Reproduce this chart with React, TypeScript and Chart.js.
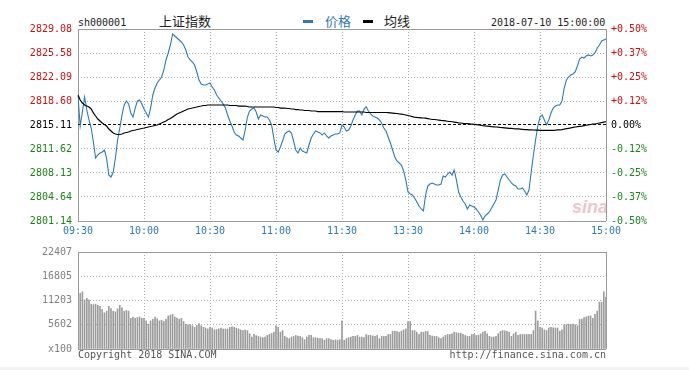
import React, { useEffect, useRef } from 'react';
import { Chart, registerables } from 'chart.js';

Chart.register(...registerables);

// ---------- data ----------
const priceTicks = [2801.14, 2804.64, 2808.13, 2811.62, 2815.11, 2818.6, 2822.09, 2825.58, 2829.08];
const pctTicks = ['-0.50%', '-0.37%', '-0.25%', '-0.12%', '0.00%', '+0.12%', '+0.25%', '+0.37%', '+0.50%'];
const volTicks = [0, 5602, 11203, 16805, 22407];
const volTickLabels = ['x100', '5602', '11203', '16805', '22407'];

const priceValues = [
  2819.33, 2814.96, 2817.0, 2819.18, 2817.29, 2815.84, 2814.67, 2812.64, 2810.31, 2810.75,
  2811.04, 2811.18, 2811.47, 2810.31, 2807.83, 2807.54, 2808.27, 2810.31, 2812.93, 2814.67,
  2816.57, 2818.02, 2818.6, 2818.17, 2816.86, 2816.27, 2817.58, 2818.6, 2818.75, 2818.17,
  2817.44, 2816.86, 2816.27, 2817.58, 2819.48, 2820.49, 2821.22, 2821.66, 2822.09, 2823.11,
  2824.57, 2825.59, 2826.75, 2828.35, 2828.06, 2827.77, 2827.48, 2827.19, 2826.75, 2826.02,
  2825.0, 2824.57, 2824.28, 2823.84, 2822.82, 2821.66, 2821.08, 2820.93, 2820.93, 2821.08,
  2821.22, 2820.64, 2820.2, 2819.48, 2819.04, 2818.6, 2818.17, 2817.58, 2816.57, 2815.69,
  2814.96, 2814.09, 2813.65, 2813.51, 2813.22, 2812.93, 2814.38, 2816.27, 2817.15, 2817.44,
  2817.58, 2817.0, 2815.98, 2816.57, 2816.42, 2816.27, 2816.27, 2815.84, 2815.11, 2813.22,
  2811.47, 2811.18, 2811.91, 2812.78, 2813.8, 2814.09, 2814.24, 2813.95, 2812.78, 2811.47,
  2811.04, 2811.76, 2811.33, 2811.18, 2811.04, 2812.2, 2813.22, 2813.8, 2814.24, 2814.09,
  2813.95, 2813.65, 2813.95, 2813.51, 2813.22, 2813.51, 2813.65, 2813.8, 2813.8, 2813.95,
  2815.11, 2814.82, 2814.24, 2814.38, 2814.96, 2815.84, 2816.57, 2817.15, 2817.15, 2816.57,
  2817.44, 2817.73, 2817.15, 2816.71, 2816.42, 2816.27, 2816.13, 2815.84, 2815.4, 2814.67,
  2814.24, 2813.36, 2812.49, 2811.47, 2810.45, 2809.87, 2809.58, 2809.29, 2808.42, 2807.11,
  2805.36, 2805.07, 2804.92, 2804.49, 2803.91, 2803.32, 2802.89, 2802.6, 2804.92, 2806.23,
  2806.52, 2806.67, 2806.52, 2806.38, 2806.38, 2806.52, 2807.69, 2807.54, 2807.98, 2808.27,
  2807.83, 2808.56, 2807.11, 2805.36, 2804.63, 2804.05, 2803.61, 2802.89, 2803.47, 2803.32,
  2803.18, 2802.89, 2802.45, 2802.01, 2801.29, 2801.87, 2802.16, 2802.45, 2803.03, 2803.61,
  2804.2, 2805.65, 2807.11, 2807.83, 2807.98, 2807.54, 2807.11, 2806.67, 2806.38, 2806.23,
  2805.79, 2805.79, 2805.94, 2805.5, 2804.92, 2805.65, 2808.27, 2810.75, 2812.93, 2814.96,
  2816.27, 2816.57, 2815.84, 2815.11, 2815.84, 2816.86, 2817.58, 2817.87, 2818.02, 2818.02,
  2818.6, 2820.49, 2821.66, 2822.09, 2822.39, 2822.53, 2822.82, 2823.69, 2824.71, 2825.0,
  2824.86, 2825.15, 2825.3, 2825.15, 2825.3, 2825.59, 2826.31, 2826.75, 2827.33, 2827.48,
  2827.63,
];

const avgValues = [
  2819.48, 2818.75, 2818.31, 2818.02, 2817.87, 2817.73, 2817.44, 2816.86, 2816.42, 2815.98,
  2815.69, 2815.4, 2815.18, 2814.96, 2814.53, 2814.24, 2813.95, 2813.8, 2813.73, 2813.73,
  2813.8, 2813.95, 2814.02, 2814.09, 2814.24, 2814.31, 2814.38, 2814.46, 2814.53, 2814.6,
  2814.67, 2814.75, 2814.82, 2814.89, 2814.96, 2815.04, 2815.11, 2815.26, 2815.4, 2815.55,
  2815.69, 2815.91, 2816.06, 2816.27, 2816.49, 2816.71, 2816.86, 2817.0, 2817.15, 2817.29,
  2817.44, 2817.51, 2817.58, 2817.66, 2817.73, 2817.8, 2817.87, 2817.95, 2817.95, 2818.02,
  2818.02, 2818.02, 2818.02, 2818.02, 2818.02, 2818.02, 2818.02, 2818.02, 2818.02, 2817.95,
  2817.95, 2817.95, 2817.95, 2817.87, 2817.87, 2817.87, 2817.87, 2817.8, 2817.73, 2817.73,
  2817.73, 2817.73, 2817.73, 2817.73, 2817.73, 2817.73, 2817.73, 2817.73, 2817.73, 2817.73,
  2817.66, 2817.66, 2817.58, 2817.58, 2817.58, 2817.51, 2817.51, 2817.44, 2817.44, 2817.36,
  2817.36, 2817.29, 2817.29, 2817.22, 2817.22, 2817.22, 2817.15, 2817.15, 2817.15, 2817.07,
  2817.07, 2817.07, 2817.07, 2817.07, 2817.07, 2817.07, 2817.07, 2817.07, 2817.07, 2817.07,
  2817.07, 2817.0, 2817.0, 2817.0, 2817.0, 2817.0, 2817.0, 2817.0, 2817.0, 2817.0,
  2817.0, 2816.93, 2816.93, 2816.93, 2816.93, 2816.93, 2816.93, 2816.93, 2816.93, 2816.93,
  2816.93, 2816.9, 2816.87, 2816.84, 2816.81, 2816.78, 2816.73, 2816.69, 2816.64, 2816.57,
  2816.49, 2816.42, 2816.33, 2816.24, 2816.21, 2816.19, 2816.16, 2816.13, 2816.1, 2816.04,
  2815.98, 2815.94, 2815.91, 2815.87, 2815.83, 2815.78, 2815.74, 2815.7, 2815.66, 2815.62,
  2815.58, 2815.53, 2815.48, 2815.43, 2815.4, 2815.36, 2815.33, 2815.3, 2815.26, 2815.23,
  2815.2, 2815.16, 2815.11, 2815.07, 2815.02, 2814.98, 2814.95, 2814.92, 2814.88, 2814.85,
  2814.82, 2814.79, 2814.75, 2814.72, 2814.69, 2814.66, 2814.63, 2814.61, 2814.58, 2814.56,
  2814.54, 2814.51, 2814.48, 2814.45, 2814.43, 2814.4, 2814.39, 2814.38, 2814.36, 2814.35,
  2814.34, 2814.34, 2814.34, 2814.34, 2814.34, 2814.34, 2814.34, 2814.36, 2814.39, 2814.41,
  2814.44, 2814.5, 2814.57, 2814.63, 2814.69, 2814.76, 2814.82, 2814.86, 2814.9, 2814.94,
  2815.01, 2815.07, 2815.14, 2815.18, 2815.23, 2815.27, 2815.33, 2815.4, 2815.46, 2815.52,
  2815.58,
];

const volumeValues = [
  13500, 12840, 13220, 11360, 11720, 11360, 10370, 10240, 10370, 10100,
  9860, 9110, 8360, 8740, 9860, 9340, 8740, 8590, 9300, 10080,
  9490, 8740, 8890, 8740, 7100, 7400, 7100, 7250, 7400, 7100,
  7100, 6500, 5750, 6500, 6870, 7400, 7000, 6500, 6650, 6350,
  6870, 7620, 7840, 7990, 7400, 7150, 6870, 7100, 6350, 5750,
  5600, 5600, 5380, 5000, 5450, 5900, 5380, 5000, 4850, 4630,
  5000, 4850, 4410, 4500, 4630, 4850, 4630, 4630, 4630, 5000,
  5150, 5000, 4800, 4630, 4410, 4260, 4410, 4260, 3510, 2760,
  3360, 3100, 2910, 2760, 2610, 2760, 3140, 3360, 3600, 3880,
  5380,
  5000, 3880, 4260, 2910, 2610, 2390, 2760, 2910, 3140, 3000,
  2910, 2610, 2160, 2760, 3140, 3140, 2610, 2610, 2500, 2390,
  2390, 2020, 2390, 2390, 2160, 2020, 2100, 2020, 2160,
  6500,
  2020, 2390, 2610, 2760, 2910, 2910, 3140, 2760, 2760, 2610,
  3360, 3140, 3140, 3000, 2910, 3140, 2390, 2910, 2910, 2910,
  3360, 3360, 4110, 4110, 4000, 3880, 4110, 4410, 4630,
  6350,
  6350, 4260, 4260, 3880, 3360, 3880, 3880, 4040, 4040, 3140,
  3000, 2910, 2910, 2610, 2390, 2760, 3140, 3360, 3360, 3510,
  3880, 3750, 3660, 3660, 3360, 3140, 2910, 2910, 3360, 3360,
  3140, 3140, 3500, 3880, 4110, 3510, 2910, 2760, 2760, 2910,
  3510, 4110, 4260, 4200, 4110, 3880, 2910, 3510, 3880, 3140,
  3360, 3360, 3360, 3360, 3360, 3360, 4260,
  8740,
  6500, 5000, 4850, 4410, 4260, 4850, 5000, 4900, 4850, 4850,
  4110, 4410, 5600, 5600, 5750, 5700, 5750, 5600, 5380, 6870,
  6870, 7240, 7400, 7620, 7620, 7100, 7990, 8740, 10830, 10830,
  13220, 12000,
];

// minute categories: 09:30-11:30 and 13:01-15:00
function buildMinutes(): string[] {
  const out: string[] = [];
  const pad = (n: number) => (n < 10 ? '0' + n : '' + n);
  for (let m = 9 * 60 + 30; m <= 11 * 60 + 30; m++) out.push(pad(Math.floor(m / 60)) + ':' + pad(m % 60));
  for (let m = 13 * 60 + 1; m <= 15 * 60; m++) out.push(pad(Math.floor(m / 60)) + ':' + pad(m % 60));
  return out;
}
const minutes = buildMinutes();

// ---------- styles ----------
const MONO = '"DejaVu Sans Mono", monospace';
const CJK = '"Noto Sans CJK SC", sans-serif';
const GRID = '#a8a8a8';
const EDGE = '#9a9a9a';
const RED = '#cc1111';
const GREEN = '#1a861a';
const BLUE = '#2c7bb6';
const TICK_FONT = { family: MONO, size: 10 };

const xGrid = (last: number) => ({
  offset: false,
  drawTicks: false,
  lineWidth: 1,
  color: (ctx: any) =>
    ctx.index % 30 === 0 ? (ctx.index === 0 || ctx.index === last ? EDGE : GRID) : 'transparent',
});
const xBorder = (last: number) => ({
  display: false,
  dash: (ctx: any) => (ctx.index === 0 || ctx.index === last ? [] : [1, 2]),
});

export default function App() {
  const priceRef = useRef<HTMLCanvasElement | null>(null);
  const volRef = useRef<HTMLCanvasElement | null>(null);

  useEffect(() => {
    if (!priceRef.current || !volRef.current) return;
    const last = minutes.length - 1;

    const priceChart = new Chart(priceRef.current, {
      type: 'line',
      data: {
        labels: minutes,
        datasets: [
          {
            label: '均线',
            data: avgValues,
            borderColor: '#000000',
            borderWidth: 1.2,
            pointRadius: 0,
            tension: 0,
            yAxisID: 'y',
          },
          {
            label: '价格',
            data: priceValues,
            borderColor: BLUE,
            borderWidth: 1.1,
            pointRadius: 0,
            tension: 0,
            yAxisID: 'y',
          },
        ],
      },
      options: {
        responsive: false,
        animation: false,
        events: [],
        layout: { padding: { top: 29, left: 0, right: 0, bottom: 0 } },
        plugins: { legend: { display: false }, tooltip: { enabled: false } },
        scales: {
          x: {
            type: 'category',
            offset: false,
            grid: xGrid(last),
            border: xBorder(last),
            ticks: {
              autoSkip: false,
              maxRotation: 0,
              minRotation: 0,
              padding: 4,
              color: BLUE,
              font: TICK_FONT,
              callback: (_v: any, i: number) => (i % 30 === 0 ? minutes[i] : ''),
            },
            afterFit: (s: any) => {
              s.height = 19;
            },
          },
          y: {
            position: 'left',
            min: priceTicks[0],
            max: priceTicks[priceTicks.length - 1],
            afterBuildTicks: (s: any) => {
              s.ticks = priceTicks.map((v) => ({ value: v }));
            },
            afterFit: (s: any) => {
              s.width = 78;
            },
            grid: {
              drawTicks: false,
              lineWidth: 1,
              color: (ctx: any) =>
                ctx.index === 4 ? '#000000' : ctx.index === 0 || ctx.index === 8 ? EDGE : GRID,
            },
            border: {
              display: false,
              dash: (ctx: any) =>
                ctx.index === 4 ? [3, 2] : ctx.index === 0 || ctx.index === 8 ? [] : [1, 2],
            },
            ticks: {
              padding: 6,
              font: TICK_FONT,
              color: (ctx: any) => (ctx.index > 4 ? RED : ctx.index < 4 ? GREEN : '#000000'),
              callback: (v: any) => Number(v).toFixed(2),
            },
          },
          y2: {
            position: 'right',
            min: priceTicks[0],
            max: priceTicks[priceTicks.length - 1],
            afterBuildTicks: (s: any) => {
              s.ticks = priceTicks.map((v) => ({ value: v }));
            },
            afterFit: (s: any) => {
              s.width = 83;
            },
            grid: { display: false, drawTicks: false },
            border: { display: false },
            ticks: {
              padding: 5,
              font: TICK_FONT,
              color: (ctx: any) => (ctx.index > 4 ? RED : ctx.index < 4 ? GREEN : '#000000'),
              callback: (_v: any, i: number) => pctTicks[i],
            },
          },
        },
      },
    } as any);

    const volChart = new Chart(volRef.current, {
      type: 'bar',
      data: {
        labels: minutes,
        datasets: [
          {
            label: 'volume',
            data: volumeValues,
            backgroundColor: '#9c9c9c',
            borderWidth: 0,
            barThickness: 1,
          },
        ],
      },
      options: {
        responsive: false,
        animation: false,
        events: [],
        layout: { padding: { top: 9, left: 0, right: 83, bottom: 0 } },
        plugins: { legend: { display: false }, tooltip: { enabled: false } },
        scales: {
          x: {
            type: 'category',
            offset: false,
            grid: xGrid(last),
            border: xBorder(last),
            ticks: { display: false, autoSkip: false },
            afterFit: (s: any) => {
              s.height = 21;
            },
          },
          y: {
            position: 'left',
            min: 0,
            max: volTicks[volTicks.length - 1],
            afterBuildTicks: (s: any) => {
              s.ticks = volTicks.map((v) => ({ value: v }));
            },
            afterFit: (s: any) => {
              s.width = 78;
            },
            grid: {
              drawTicks: false,
              lineWidth: 1,
              color: (ctx: any) => (ctx.index === 0 || ctx.index === 4 ? EDGE : GRID),
            },
            border: {
              display: false,
              dash: (ctx: any) => (ctx.index === 0 || ctx.index === 4 ? [] : [1, 2]),
            },
            ticks: {
              padding: 6,
              font: TICK_FONT,
              color: '#808080',
              callback: (_v: any, i: number) => volTickLabels[i],
            },
          },
        },
      },
    } as any);

    return () => {
      priceChart.destroy();
      volChart.destroy();
    };
  }, []);

  const txt = (extra: React.CSSProperties): React.CSSProperties => ({
    position: 'absolute',
    whiteSpace: 'nowrap',
    margin: 0,
    padding: 0,
    ...extra,
  });

  return (
    <div
      style={{
        position: 'absolute',
        left: 0,
        top: 0,
        width: 689,
        height: 370,
        overflow: 'hidden',
        background: '#ffffff',
      }}
    >
      {/* header */}
      <div style={txt({ left: 78, top: 17, font: `10px ${MONO}`, lineHeight: '12px', color: '#222' })}>sh000001</div>
      <div style={txt({ left: 159, top: 11, font: `13px ${CJK}`, lineHeight: '19px', color: '#222' })}>上证指数</div>
      <div style={{ position: 'absolute', left: 303, top: 20, width: 10, height: 3, background: BLUE }} />
      <div style={txt({ left: 325, top: 11, font: `13px ${CJK}`, lineHeight: '19px', color: BLUE })}>价格</div>
      <div style={{ position: 'absolute', left: 363, top: 20, width: 10, height: 3, background: '#000' }} />
      <div style={txt({ left: 384, top: 11, font: `13px ${CJK}`, lineHeight: '19px', color: '#222' })}>均线</div>
      <div style={txt({ left: 491, top: 17, font: `10px ${MONO}`, lineHeight: '12px', color: '#222' })}>
        2018-07-10 15:00:00
      </div>

      {/* watermark */}
      <div
        style={txt({
          left: 572,
          top: 197,
          font: `italic bold 18px "Liberation Sans", sans-serif`,
          lineHeight: '20px',
          color: 'rgba(225, 120, 140, 0.45)',
        })}
      >
        sina
      </div>

      <canvas
        ref={priceRef}
        width={689}
        height={240}
        style={{ position: 'absolute', left: 0, top: 0, width: 689, height: 240 }}
      />
      <canvas
        ref={volRef}
        width={689}
        height={130}
        style={{ position: 'absolute', left: 0, top: 240, width: 689, height: 130 }}
      />

      {/* footer */}
      <div style={txt({ left: 78, top: 349, font: `10px ${MONO}`, lineHeight: '12px', color: '#555' })}>
        Copyright 2018 SINA.COM
      </div>
      <div style={txt({ right: 83, top: 349, font: `10px ${MONO}`, lineHeight: '12px', color: '#555' })}>
        http://finance.sina.com.cn
      </div>
      <div style={{ position: 'absolute', left: 0, top: 367, width: 689, height: 3, background: '#f3f3f3' }} />
    </div>
  );
}
